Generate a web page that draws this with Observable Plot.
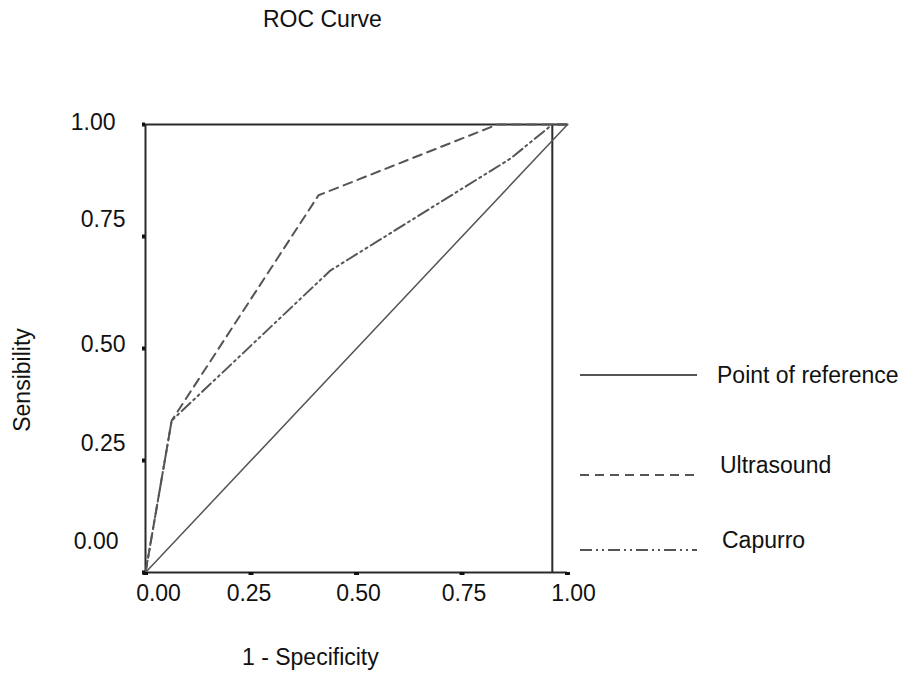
<!DOCTYPE html>
<html>
<head>
<meta charset="utf-8">
<script src="https://cdn.jsdelivr.net/npm/d3@7"></script>
<script src="https://cdn.jsdelivr.net/npm/@observablehq/plot@0.6"></script>
<style>
  html, body { margin: 0; padding: 0; background: #fff; }
  #wrap { position: relative; width: 912px; height: 675px; font-family: "Liberation Sans", Arial, sans-serif; color: #111; }
  .lbl { position: absolute; font-size: 23px; white-space: nowrap; line-height: 1; }
  #title { left: 263px; top: 8px; }
  #xlab { left: 242px; top: 646px; }
  #ylab { left: 22px; top: 380px; transform: translate(-50%, -50%) rotate(-90deg); }
  .leg { position: absolute; left: 580px; width: 330px; height: 40px; }
  .leg svg { position: absolute; left: 0; top: 0; overflow: visible; }
  .leg span { position: absolute; font-size: 23px; line-height: 1; white-space: nowrap; }
</style>
</head>
<body>
<div id="wrap">
  <div id="chart"></div>
  <div class="lbl" id="title">ROC Curve</div>
  <div class="lbl" id="xlab">1 - Specificity</div>
  <div class="lbl" id="ylab">Sensibility</div>
  <div id="legend"></div>
</div>
<script>
// Data
const refX = [0, 1];
const refY = [0, 1];
const ultraX = [0, 0.062, 0.41, 0.834, 1];
const ultraY = [0, 0.339, 0.842, 1, 1];
const capX = [0, 0.062, 0.438, 0.865, 0.964, 1];
const capY = [0, 0.339, 0.674, 0.924, 1, 1];
const xTicks = [0, 0.25, 0.5, 0.75, 1];
const yTicks = [0, 0.25, 0.5, 0.75, 1];
const frameRight = 0.964;
const seriesNames = ["Point of reference", "Ultrasound", "Capurro"];

const refData = refX.map((x, i) => ({x, y: refY[i]}));
const ultraData = ultraX.map((x, i) => ({x, y: ultraY[i]}));
const capData = capX.map((x, i) => ({x, y: capY[i]}));

const fmt = d3.format(".2f");
const lineColor = "#555";
const frameColor = "#2a2a2a";
const dashes = ["none", "9,6", "12,4,2,4,2,4"];

const chart = Plot.plot({
  width: 912,
  height: 675,
  marginLeft: 145,
  marginRight: 345,
  marginTop: 124,
  marginBottom: 103,
  style: {fontFamily: "Liberation Sans, Arial, sans-serif", fontSize: "23px", color: "#111", background: "transparent"},
  x: {domain: [0, 1]},
  y: {domain: [0, 1]},
  marks: [
    // frame
    Plot.ruleY([0, 1], {stroke: frameColor, strokeWidth: 2}),
    Plot.ruleX([0, frameRight], {stroke: frameColor, strokeWidth: 2}),
    // curves
    Plot.line(refData, {x: "x", y: "y", stroke: lineColor, strokeWidth: 1.5}),
    Plot.line(ultraData, {x: "x", y: "y", stroke: lineColor, strokeWidth: 2, strokeDasharray: dashes[1]}),
    Plot.line(capData, {x: "x", y: "y", stroke: lineColor, strokeWidth: 2, strokeDasharray: dashes[2]}),
    // x axis
    Plot.axisX(xTicks, {anchor: "bottom", tickSize: 3, tickPadding: 9, strokeWidth: 5, stroke: "#111", tickFormat: fmt, label: null, text: null}),
    Plot.axisX([0], {anchor: "bottom", tickSize: 0, tickPadding: 12, tickFormat: fmt, label: null, dx: 13}),
    Plot.axisX([0.25], {anchor: "bottom", tickSize: 0, tickPadding: 12, tickFormat: fmt, label: null, dx: -2}),
    Plot.axisX([0.5, 0.75], {anchor: "bottom", tickSize: 0, tickPadding: 12, tickFormat: fmt, label: null, dx: 2}),
    Plot.axisX([1], {anchor: "bottom", tickSize: 0, tickPadding: 12, tickFormat: fmt, label: null, dx: 6}),
    // y axis
    Plot.axisY(yTicks, {anchor: "left", tickSize: 3, tickPadding: 17, strokeWidth: 4, stroke: "#111", tickFormat: fmt, label: null, text: null}),
    Plot.axisY([1], {anchor: "left", tickSize: 0, tickPadding: 30, tickFormat: fmt, label: null, dy: -2}),
    Plot.axisY([0.75, 0.25], {anchor: "left", tickSize: 0, tickPadding: 20, tickFormat: fmt, label: null, dy: -17}),
    Plot.axisY([0.5], {anchor: "left", tickSize: 0, tickPadding: 20, tickFormat: fmt, label: null, dy: -4}),
    Plot.axisY([0], {anchor: "left", tickSize: 0, tickPadding: 27, tickFormat: fmt, label: null, dy: -31})
  ]
});
document.getElementById("chart").appendChild(chart);

// Legend
const legendTops = [355, 445, 520];
const textOffsets = [[137, 9], [140, 9], [142, 9]];
const lineOffsets = [20, 30, 30];
const legend = document.getElementById("legend");
seriesNames.forEach((name, i) => {
  const item = document.createElement("div");
  item.className = "leg";
  item.style.top = legendTops[i] + "px";
  const ly = lineOffsets[i];
  item.innerHTML = `<svg width="120" height="40"><line x1="0" x2="117" y1="${ly}" y2="${ly}" stroke="${lineColor}" stroke-width="2" ${dashes[i] === "none" ? "" : `stroke-dasharray="${dashes[i]}"`}/></svg><span style="left:${textOffsets[i][0]}px;top:${textOffsets[i][1]}px">${name}</span>`;
  legend.appendChild(item);
});
</script>
</body>
</html>
